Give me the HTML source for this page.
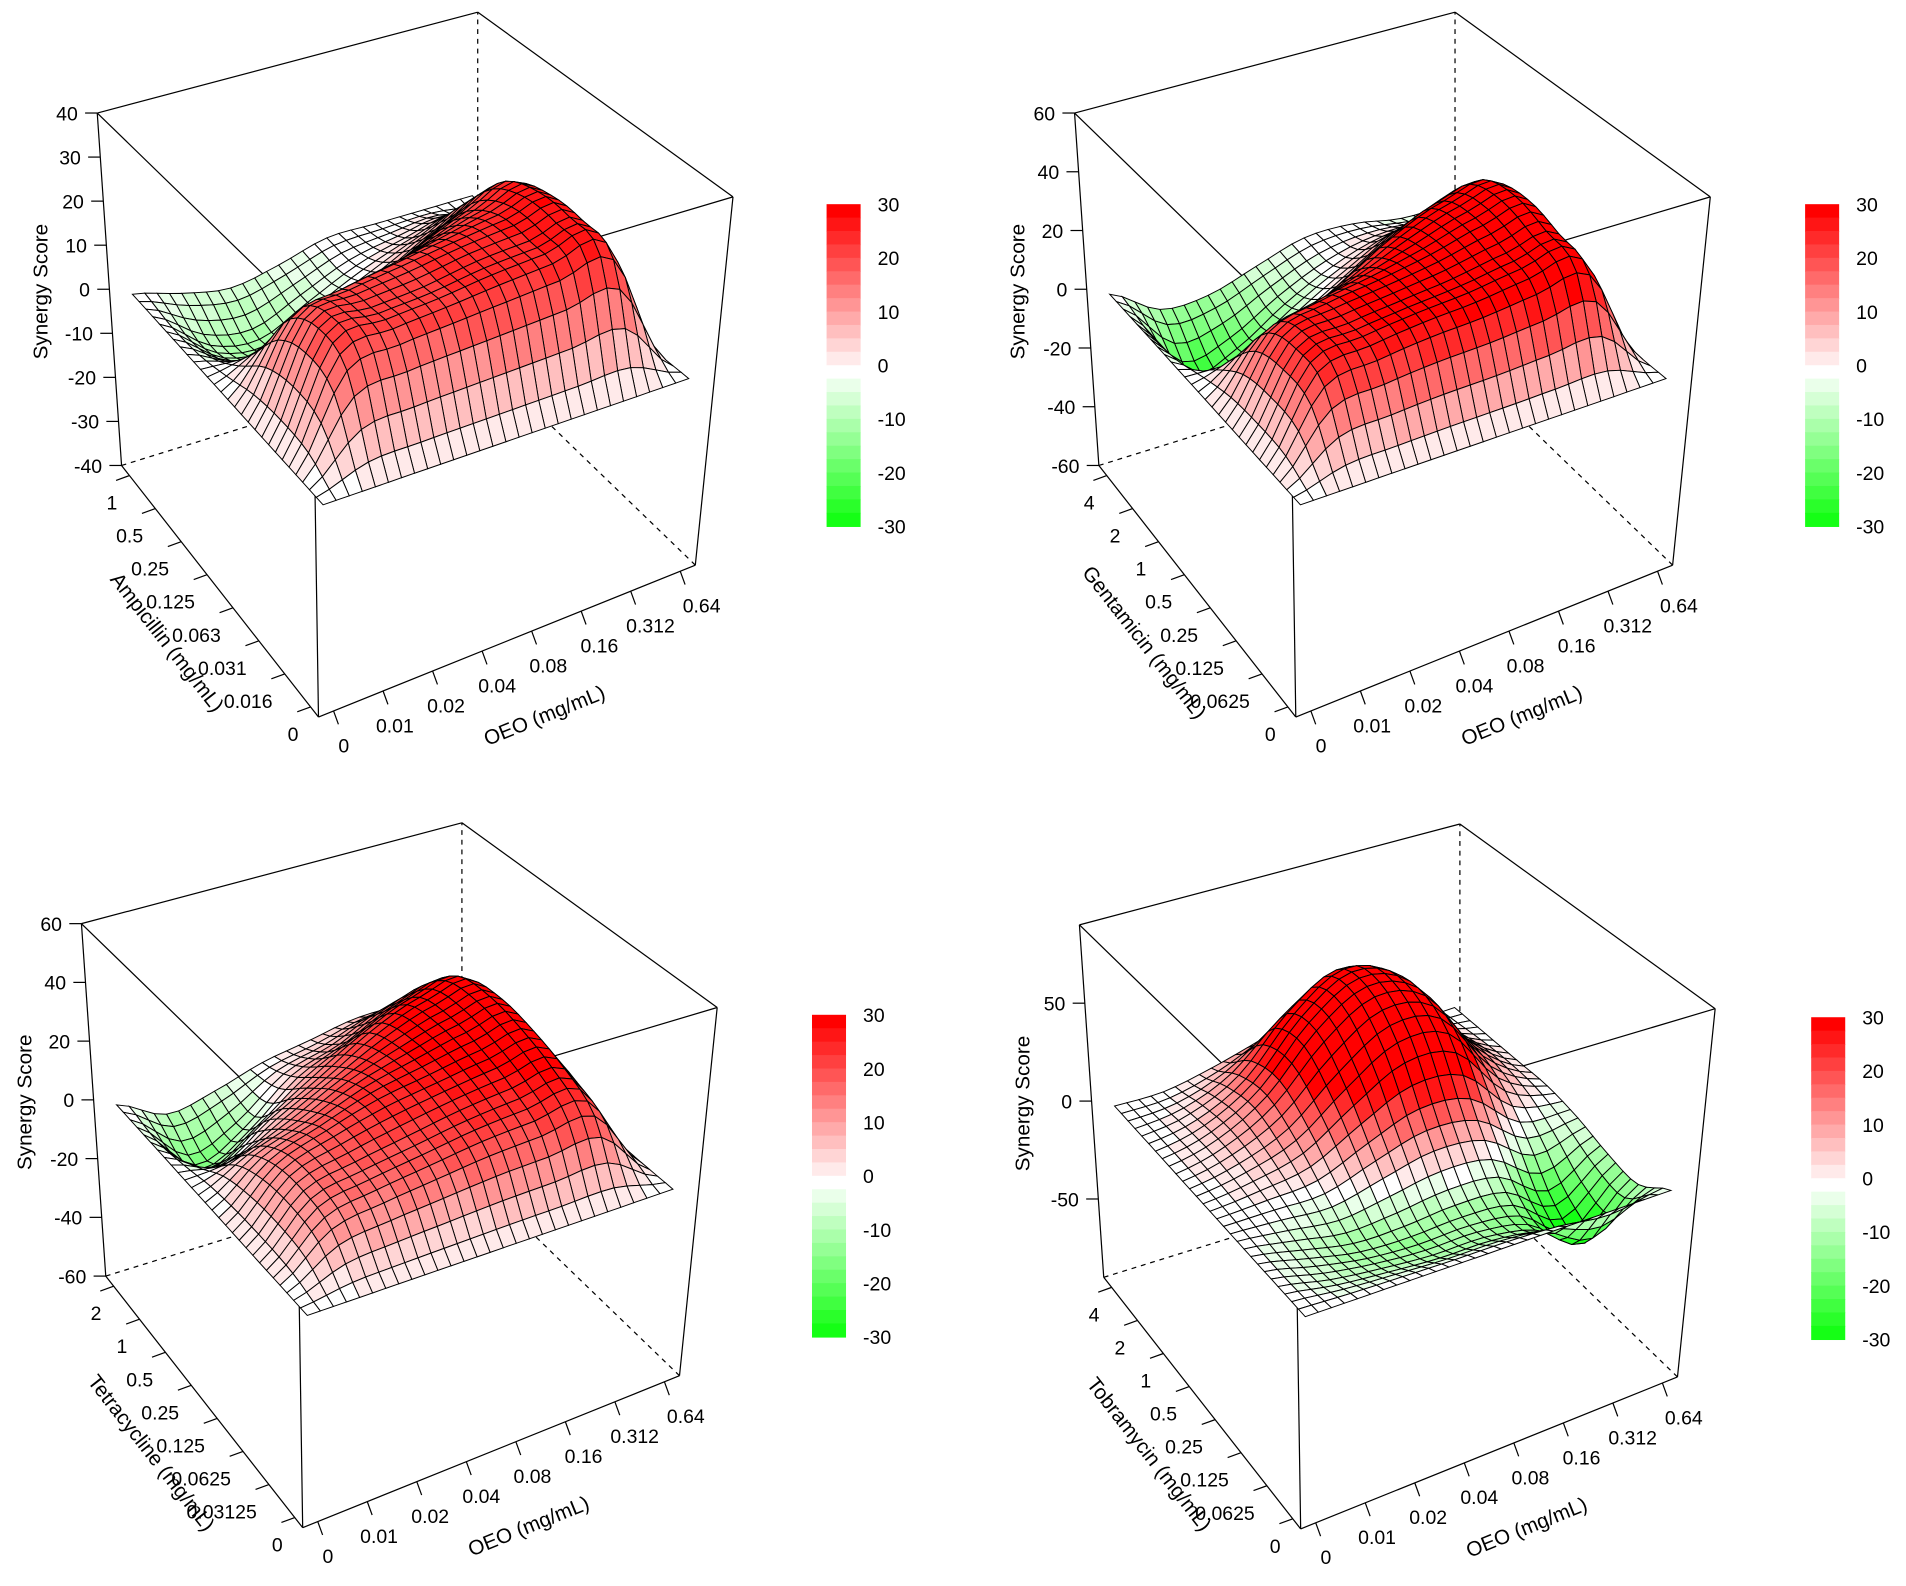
<!DOCTYPE html>
<html><head><meta charset="utf-8"><style>
html,body{margin:0;padding:0;background:#fff;}
svg{display:block;font-family:"Liberation Sans",sans-serif;}
</style></head><body>
<svg id="chart" width="1906" height="1586" viewBox="0 0 1568 1305" preserveAspectRatio="none" xmlns="http://www.w3.org/2000/svg"></svg>
<script>
// ---- data ----
const oeoLabels = ["0","0.01","0.02","0.04","0.08","0.16","0.312","0.64"];
const ampLabels = ["0","0.016","0.031","0.063","0.125","0.25","0.5","1"];
const genLabels = ["0","0.0625","0.125","0.25","0.5","1","2","4"];
const tetLabels = ["0","0.03125","0.0625","0.125","0.25","0.5","1","2"];
const tobLabels = ["0","0.0625","0.125","0.25","0.5","1","2","4"];
const zTicks1 = [-40,-30,-20,-10,0,10,20,30,40];
const zTicks2 = [-60,-40,-20,0,20,40,60];
const zTicks3 = [-60,-40,-20,0,20,40,60];
const zTicks4 = [-50,0,50];
const cbTicks = [-30,-20,-10,0,10,20,30];
// rows: drug concentration index, cols: OEO index
const ampValues = [
 [0,0,0,0,0,0,0,0],
 [0,18,20,21,22,23,24,0],
 [0,21,22,23,25,26,27,2],
 [0,17,20,22,24,26,27,2],
 [0,5,8,11,16,21,24,0],
 [0,-5,-5,0,5,11,15,-3],
 [0,-8,-10,-5,0,3,5,-3],
 [0,-3,-5,-3,0,0,0,0]];
const genValues = [
 [0,0,0,0,0,0,0,0],
 [0,22,25,27,28,30,31,0],
 [0,25,28,30,32,35,36,2],
 [0,21,26,29,33,38,39,3],
 [0,5,10,18,28,35,36,2],
 [0,-15,-10,0,10,20,22,-3],
 [0,-22,-18,-8,0,5,5,-5],
 [0,-10,-10,-5,0,0,-3,-3]];
const tetValues = [
 [0,0,0,0,0,0,0,0],
 [0,12,15,17,19,20,21,0],
 [0,15,19,22,25,27,28,0],
 [0,14,20,25,28,31,32,0],
 [0,8,14,22,28,33,34,0],
 [0,-5,5,14,24,31,32,-3],
 [0,-15,-8,5,11,19,21,-5],
 [0,-8,-5,0,3,6,5,-3]];
const tobValues = [
 [0,0,0,0,0,0,0,0],
 [0,-5,-8,-10,-10,-15,-30,-10],
 [0,-5,-10,-10,-8,-10,-25,-8],
 [0,0,0,8,15,12,-5,-3],
 [0,4,12,30,45,42,12,0],
 [0,6,20,45,60,52,18,0],
 [0,4,16,40,55,45,12,0],
 [0,0,5,12,20,14,0,0]];

const svg = document.getElementById('chart');
const NS = 'http://www.w3.org/2000/svg';
function mk(tag, attrs, parent){const e=document.createElementNS(NS,tag);for(const k in attrs)e.setAttribute(k,attrs[k]);(parent||svg).appendChild(e);return e;}

const panels = [
 {name:'ampicillin',dx:0,dy:0,drug:'Ampicillin (mg/mL)',dl:ampLabels,vals:ampValues,zmin:-40,zmax:40,zt:zTicks1,cb:[680,168]},
 {name:'gentamicin',dx:804,dy:0,drug:'Gentamicin (mg/mL)',dl:genLabels,vals:genValues,zmin:-60,zmax:60,zt:zTicks2,cb:[1485,168]},
 {name:'tetracycline',dx:-13,dy:667,drug:'Tetracycline (mg/mL)',dl:tetLabels,vals:tetValues,zmin:-60,zmax:60,zt:zTicks3,cb:[668,835]},
 {name:'tobramycin',dx:808,dy:668,drug:'Tobramycin (mg/mL)',dl:tobLabels,vals:tobValues,zmin:-90,zmax:90,zt:zTicks4,cb:[1490,837]}
];
const B={f:[262,590],r:[572,465],l:[100,383],b:[393,292]};
const T={f:[257,265],r:[603,162],l:[80,93],b:[393,10]};
function bil(C,x,y){return [C.f[0]*(1-x)*(1-y)+C.r[0]*x*(1-y)+C.l[0]*(1-x)*y+C.b[0]*x*y,
 C.f[1]*(1-x)*(1-y)+C.r[1]*x*(1-y)+C.l[1]*(1-x)*y+C.b[1]*x*y];}
function colorFor(z){let t=Math.max(-1,Math.min(1,z/30));t=Math.round(t*12)/12;
 if(t>=0){const c=Math.round(255*(1-t));return `rgb(255,${c},${c})`;}
 const c=Math.round(255*(1+t));return `rgb(${c},255,${c})`;}
function cr(p0,p1,p2,p3,t){return 0.5*((2*p1)+(-p0+p2)*t+(2*p0-5*p1+4*p2-p3)*t*t+(-p0+3*p1-3*p2+p3)*t*t*t);}
function sample(V,u,v){
 const n=7;
 function row(j){const jj=Math.max(0,Math.min(n,j));const r=V[jj];
  const i=Math.min(Math.floor(u),n-1),t=u-i;
  const g=k=>r[Math.max(0,Math.min(n,k))];
  return cr(g(i-1),g(i),g(i+1),g(i+2),t);}
 const j=Math.min(Math.floor(v),n-1),t=v-j;
 return cr(row(j-1),row(j),row(j+1),row(j+2),t);}

panels.forEach((P,pi)=>{
 const g=mk('g',{transform:`translate(${P.dx},${P.dy})`});
 
 
 const proj=(x,y,z)=>{const b=bil(B,x,y),t=bil(T,x,y),s=(z-P.zmin)/(P.zmax-P.zmin);return [b[0]+(t[0]-b[0])*s,b[1]+(t[1]-b[1])*s];};
 const box=mk('g',{stroke:'#000','stroke-width':1,fill:'none'},g);
 
 
 const L=(a,b,d)=>mk('line',{x1:a[0],y1:a[1],x2:b[0],y2:b[1],'stroke-dasharray':d?'4,4':'none'},box);
 L(B.b,T.b,1);L(B.l,B.b,1);L(B.r,B.b,1);
 L(T.l,T.b);L(T.b,T.r);L(T.r,T.f);L(T.f,T.l);
 L(B.l,T.l);L(B.r,T.r);L(B.f,T.f);L(B.f,B.l);L(B.f,B.r);
 const N=28,a=0.04,w=0.92;
 const surf=mk('g',{stroke:'#000','stroke-width':0.8},g);
 
 
 const Z=[];
 for(let j=0;j<=N;j++){Z[j]=[];for(let i=0;i<=N;i++)Z[j][i]=sample(P.vals,i*7/N,j*7/N);}
 const quads=[];
 for(let j=0;j<N;j++)for(let i=0;i<N;i++)quads.push([i,j]);
 quads.sort((p,q)=>(q[0]+q[1])-(p[0]+p[1]));
 quads.forEach(([i,j])=>{
  const pt=(ii,jj)=>proj(a+w*ii/N,a+w*jj/N,Z[jj][ii]);
  const c=[pt(i,j),pt(i+1,j),pt(i+1,j+1),pt(i,j+1)];
  const zm=(Z[j][i]+Z[j][i+1]+Z[j+1][i]+Z[j+1][i+1])/4;
  const poly=mk('polygon',{points:c.map(p=>p[0].toFixed(1)+','+p[1].toFixed(1)).join(' '),fill:colorFor(zm)},surf);
  
  
 });
 oeoLabels.forEach((lab,k)=>{const t=a+w*k/7;const e=proj(t,0,P.zmin);
  mk('line',{x1:e[0],y1:e[1],x2:e[0]+4,y2:e[1]+11,stroke:'#000'},g);
  const tx=mk('text',{x:e[0]+8+t*10,y:e[1]+34,'font-size':16,'text-anchor':'middle'},g);tx.textContent=lab;
  
  });
 P.dl.forEach((lab,k)=>{const t=a+w*k/7;const e=proj(0,t,P.zmin);
  mk('line',{x1:e[0],y1:e[1],x2:e[0]-11,y2:e[1]+4,stroke:'#000'},g);
  const tx=mk('text',{x:e[0]-10,y:e[1]+28,'font-size':16,'text-anchor':'end'},g);tx.textContent=lab;
  
  });
 P.zt.forEach(v=>{const e=proj(0,1,v);
  mk('line',{x1:e[0],y1:e[1],x2:e[0]-10,y2:e[1],stroke:'#000'},g);
  const tx=mk('text',{x:e[0]-16,y:e[1]+6,'font-size':16,'text-anchor':'end'},g);tx.textContent=v;
  
  });
 let tt=mk('text',{x:0,y:0,'font-size':17,'text-anchor':'middle',transform:'translate(450,594) rotate(-22)'},g);tt.textContent='OEO (mg/mL)';
 
 
 tt=mk('text',{x:0,y:0,'font-size':17,'text-anchor':'middle',transform:'translate(133,532) rotate(52)'},g);tt.textContent=P.drug;
 
 
 tt=mk('text',{x:0,y:0,'font-size':17,'text-anchor':'middle',transform:'translate(39,240) rotate(-90)'},g);tt.textContent='Synergy Score';
 
 
 const cb=mk('g',{},svg);
 
 
 const [cx,cy]=P.cb,H=265,nb=24;
 for(let b=0;b<nb;b++){const z=30-60*(b+0.5)/nb;
  mk('rect',{x:cx,y:cy+H*b/nb,width:28,height:H/nb+0.6,fill:colorFor(z)},cb);}
 cbTicks.forEach(v=>{const y=cy+H*(30-v)/60;const tx=mk('text',{x:cx+42,y:y+6,'font-size':16},cb);tx.textContent=v;
  
  });
});
</script>
</body></html>
